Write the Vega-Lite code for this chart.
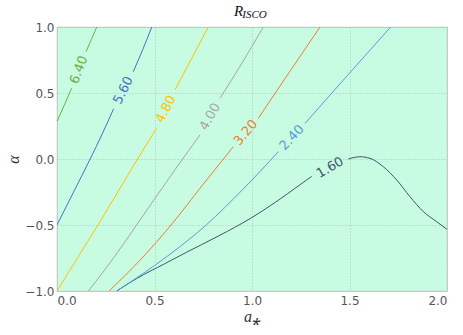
{
  "$schema": "https://vega.github.io/schema/vega-lite/v6.json",
  "width": 390,
  "height": 264,
  "autosize": {"type": "none"},
  "padding": {"left": 57, "top": 27, "right": 16, "bottom": 44},
  "background": "white",
  "title": {
    "text": "R",
    "subtitle": "\u200b\u00a0\u00a0\u00a0ISCO",
    "anchor": "middle",
    "align": "left",
    "dx": -18,
    "offset": 1,
    "font": "Liberation Serif",
    "fontStyle": "italic",
    "fontWeight": "normal",
    "fontSize": 15,
    "color": "#111111",
    "subtitleFont": "Liberation Serif",
    "subtitleFontStyle": "italic",
    "subtitleFontSize": 11,
    "subtitleColor": "#111111",
    "subtitlePadding": -10
  },
  "datasets": {
    "lines": [
      {"level": "1.60", "seg": "1.60a", "ord": 1, "a": 0.306, "alpha": -1.0},
      {"level": "1.60", "seg": "1.60a", "ord": 2, "a": 0.409, "alpha": -0.905},
      {"level": "1.60", "seg": "1.60a", "ord": 3, "a": 0.55, "alpha": -0.795},
      {"level": "1.60", "seg": "1.60a", "ord": 4, "a": 0.665, "alpha": -0.706},
      {"level": "1.60", "seg": "1.60a", "ord": 5, "a": 0.83, "alpha": -0.582},
      {"level": "1.60", "seg": "1.60a", "ord": 6, "a": 0.99, "alpha": -0.452},
      {"level": "1.60", "seg": "1.60a", "ord": 7, "a": 1.12, "alpha": -0.328},
      {"level": "1.60", "seg": "1.60a", "ord": 8, "a": 1.246, "alpha": -0.195},
      {"level": "1.60", "seg": "1.60a", "ord": 9, "a": 1.306, "alpha": -0.132},
      {"level": "1.60", "seg": "1.60b", "ord": 10, "a": 1.494, "alpha": 0.0},
      {"level": "1.60", "seg": "1.60b", "ord": 11, "a": 1.554, "alpha": 0.017},
      {"level": "1.60", "seg": "1.60b", "ord": 12, "a": 1.605, "alpha": 0.005},
      {"level": "1.60", "seg": "1.60b", "ord": 13, "a": 1.673, "alpha": -0.058},
      {"level": "1.60", "seg": "1.60b", "ord": 14, "a": 1.742, "alpha": -0.159},
      {"level": "1.60", "seg": "1.60b", "ord": 15, "a": 1.81, "alpha": -0.285},
      {"level": "1.60", "seg": "1.60b", "ord": 16, "a": 1.878, "alpha": -0.398},
      {"level": "1.60", "seg": "1.60b", "ord": 17, "a": 1.947, "alpha": -0.475},
      {"level": "1.60", "seg": "1.60b", "ord": 18, "a": 2.0, "alpha": -0.533},

      {"level": "2.40", "seg": "2.40a", "ord": 1, "a": 0.306, "alpha": -1.0},
      {"level": "2.40", "seg": "2.40a", "ord": 2, "a": 0.409, "alpha": -0.9},
      {"level": "2.40", "seg": "2.40a", "ord": 3, "a": 0.59, "alpha": -0.71},
      {"level": "2.40", "seg": "2.40a", "ord": 4, "a": 0.765, "alpha": -0.5},
      {"level": "2.40", "seg": "2.40a", "ord": 5, "a": 0.95, "alpha": -0.235},
      {"level": "2.40", "seg": "2.40a", "ord": 6, "a": 1.135, "alpha": 0.055},
      {"level": "2.40", "seg": "2.40b", "ord": 7, "a": 1.272, "alpha": 0.27},
      {"level": "2.40", "seg": "2.40b", "ord": 8, "a": 1.49, "alpha": 0.634},
      {"level": "2.40", "seg": "2.40b", "ord": 9, "a": 1.711, "alpha": 1.0},

      {"level": "3.20", "seg": "3.20a", "ord": 1, "a": 0.267, "alpha": -1.0},
      {"level": "3.20", "seg": "3.20a", "ord": 2, "a": 0.43, "alpha": -0.76},
      {"level": "3.20", "seg": "3.20a", "ord": 3, "a": 0.585, "alpha": -0.5},
      {"level": "3.20", "seg": "3.20a", "ord": 4, "a": 0.745, "alpha": -0.2},
      {"level": "3.20", "seg": "3.20a", "ord": 5, "a": 0.904, "alpha": 0.093},
      {"level": "3.20", "seg": "3.20b", "ord": 6, "a": 1.032, "alpha": 0.308},
      {"level": "3.20", "seg": "3.20b", "ord": 7, "a": 1.19, "alpha": 0.655},
      {"level": "3.20", "seg": "3.20b", "ord": 8, "a": 1.349, "alpha": 1.0},

      {"level": "4.00", "seg": "4.00a", "ord": 1, "a": 0.161, "alpha": -1.0},
      {"level": "4.00", "seg": "4.00a", "ord": 2, "a": 0.29, "alpha": -0.75},
      {"level": "4.00", "seg": "4.00a", "ord": 3, "a": 0.408, "alpha": -0.5},
      {"level": "4.00", "seg": "4.00a", "ord": 4, "a": 0.525, "alpha": -0.25},
      {"level": "4.00", "seg": "4.00a", "ord": 5, "a": 0.644, "alpha": 0.0},
      {"level": "4.00", "seg": "4.00a", "ord": 6, "a": 0.733, "alpha": 0.182},
      {"level": "4.00", "seg": "4.00b", "ord": 7, "a": 0.836, "alpha": 0.46},
      {"level": "4.00", "seg": "4.00b", "ord": 8, "a": 0.95, "alpha": 0.73},
      {"level": "4.00", "seg": "4.00b", "ord": 9, "a": 1.058, "alpha": 1.0},

      {"level": "4.80", "seg": "4.80a", "ord": 1, "a": 0.0, "alpha": -1.0},
      {"level": "4.80", "seg": "4.80a", "ord": 2, "a": 0.105, "alpha": -0.75},
      {"level": "4.80", "seg": "4.80a", "ord": 3, "a": 0.21, "alpha": -0.5},
      {"level": "4.80", "seg": "4.80a", "ord": 4, "a": 0.312, "alpha": -0.25},
      {"level": "4.80", "seg": "4.80a", "ord": 5, "a": 0.413, "alpha": 0.0},
      {"level": "4.80", "seg": "4.80a", "ord": 6, "a": 0.511, "alpha": 0.233},
      {"level": "4.80", "seg": "4.80b", "ord": 7, "a": 0.605, "alpha": 0.523},
      {"level": "4.80", "seg": "4.80b", "ord": 8, "a": 0.69, "alpha": 0.76},
      {"level": "4.80", "seg": "4.80b", "ord": 9, "a": 0.776, "alpha": 1.0},

      {"level": "5.60", "seg": "5.60a", "ord": 1, "a": 0.0, "alpha": -0.5},
      {"level": "5.60", "seg": "5.60a", "ord": 2, "a": 0.085, "alpha": -0.25},
      {"level": "5.60", "seg": "5.60a", "ord": 3, "a": 0.17, "alpha": 0.0},
      {"level": "5.60", "seg": "5.60a", "ord": 4, "a": 0.232, "alpha": 0.19},
      {"level": "5.60", "seg": "5.60a", "ord": 5, "a": 0.29, "alpha": 0.38},
      {"level": "5.60", "seg": "5.60b", "ord": 6, "a": 0.391, "alpha": 0.661},
      {"level": "5.60", "seg": "5.60b", "ord": 7, "a": 0.44, "alpha": 0.83},
      {"level": "5.60", "seg": "5.60b", "ord": 8, "a": 0.486, "alpha": 1.0},

      {"level": "6.40", "seg": "6.40a", "ord": 1, "a": 0.0, "alpha": 0.283},
      {"level": "6.40", "seg": "6.40a", "ord": 2, "a": 0.038, "alpha": 0.41},
      {"level": "6.40", "seg": "6.40a", "ord": 3, "a": 0.075, "alpha": 0.536},
      {"level": "6.40", "seg": "6.40b", "ord": 4, "a": 0.149, "alpha": 0.813},
      {"level": "6.40", "seg": "6.40b", "ord": 5, "a": 0.176, "alpha": 0.905},
      {"level": "6.40", "seg": "6.40b", "ord": 6, "a": 0.204, "alpha": 1.0}
    ],
    "labels": [
      {"level": "1.60", "a": 1.40, "alpha": -0.065, "angle": -30},
      {"level": "2.40", "a": 1.204, "alpha": 0.162, "angle": -47},
      {"level": "3.20", "a": 0.968, "alpha": 0.2, "angle": -50},
      {"level": "4.00", "a": 0.785, "alpha": 0.32, "angle": -61},
      {"level": "4.80", "a": 0.558, "alpha": 0.378, "angle": -63},
      {"level": "5.60", "a": 0.34, "alpha": 0.52, "angle": -64},
      {"level": "6.40", "a": 0.112, "alpha": 0.675, "angle": -69}
    ]
  },
  "encoding": {
    "x": {
      "field": "a",
      "type": "quantitative",
      "scale": {"domain": [0, 2], "nice": false, "zero": false},
      "axis": {
        "title": "a\u204e",
        "values": [0, 0.5, 1, 1.5, 2],
        "format": ".1f",
        "labelPadding": 4,
        "titlePadding": 2
      }
    },
    "y": {
      "field": "alpha",
      "type": "quantitative",
      "scale": {"domain": [-1, 1], "nice": false, "zero": false},
      "axis": {
        "title": "\u03b1",
        "values": [-1, -0.5, 0, 0.5, 1],
        "labelExpr": "replace(format(datum.value, '.1f'), '-', '\u2212')",
        "labelPadding": 3,
        "titlePadding": 3
      }
    },
    "color": {
      "field": "level",
      "type": "nominal",
      "scale": {
        "domain": ["1.60", "2.40", "3.20", "4.00", "4.80", "5.60", "6.40"],
        "range": ["#44546A", "#5B9BD5", "#ED7D31", "#A5A5A5", "#FFC000", "#4472C4", "#70AD47"]
      },
      "legend": null
    }
  },
  "layer": [
    {
      "data": {"name": "lines"},
      "mark": {"type": "line", "strokeWidth": 1, "clip": true, "interpolate": "monotone"},
      "encoding": {
        "detail": {"field": "seg", "type": "nominal"},
        "order": {"field": "ord", "type": "quantitative"}
      }
    },
    {
      "data": {"name": "labels"},
      "mark": {"type": "text", "font": "DejaVu Sans", "fontSize": 13, "align": "center", "baseline": "middle"},
      "encoding": {
        "text": {"field": "level", "type": "nominal"},
        "angle": {"field": "angle", "type": "quantitative", "scale": null}
      }
    }
  ],
  "config": {
    "view": {"fill": "#c7fce2", "stroke": "#cccccc", "strokeWidth": 1.2},
    "axis": {
      "grid": true,
      "gridColor": "#a9b9b1",
      "gridDash": [1, 2],
      "gridWidth": 0.8,
      "domain": false,
      "ticks": false,
      "labelFont": "DejaVu Sans",
      "labelFontSize": 12,
      "labelColor": "#555555",
      "labelOverlap": false,
      "titleFont": "Liberation Serif",
      "titleFontStyle": "italic",
      "titleFontWeight": "normal",
      "titleFontSize": 16,
      "titleColor": "#333333"
    }
  }
}
